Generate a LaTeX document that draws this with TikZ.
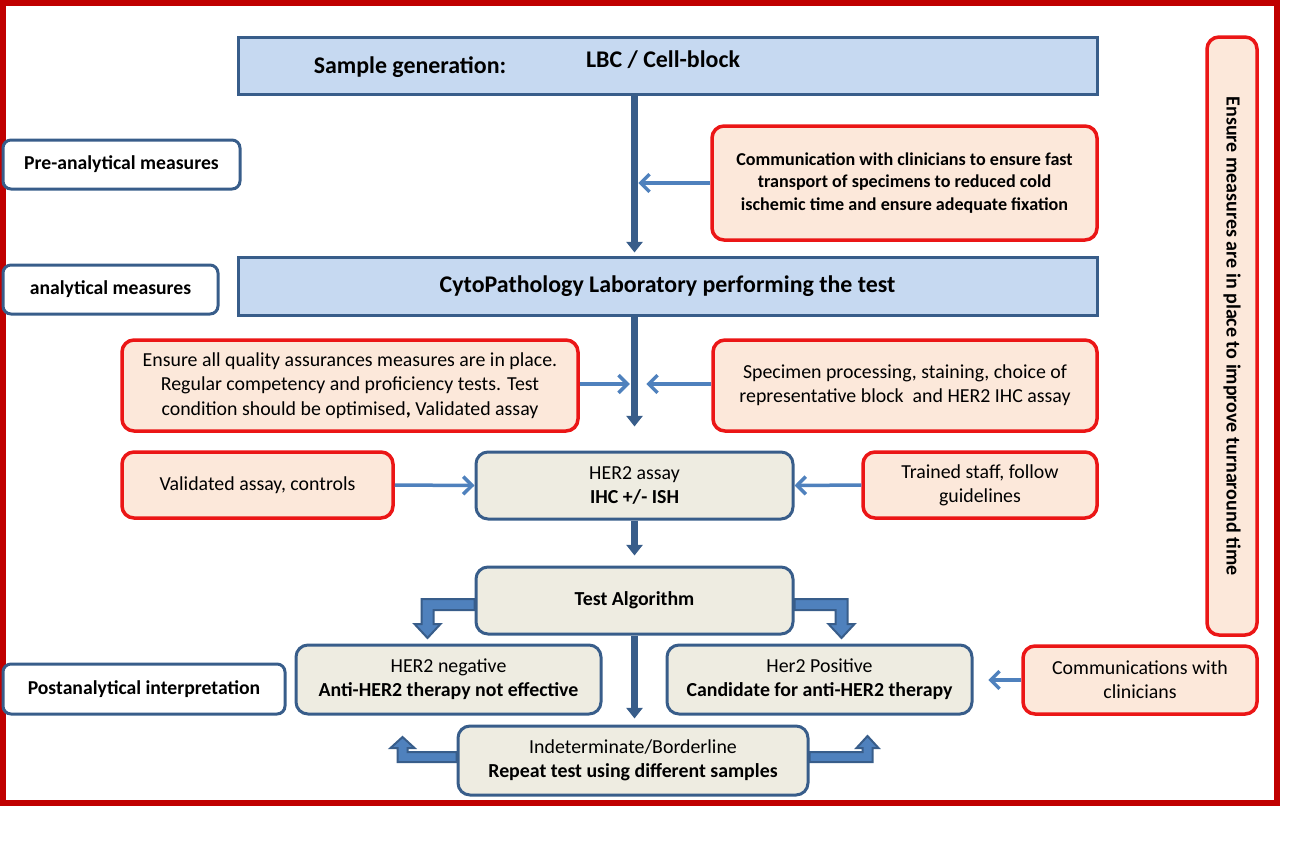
\documentclass[tikz,border=0pt]{standalone}
\usepackage{fontspec}
\setmainfont{Carlito}
\usetikzlibrary{arrows.meta}
\newcommand*{\px}{0.02cm}
\definecolor{framered}{RGB}{192,0,0}
\definecolor{boxred}{RGB}{235,22,22}
\definecolor{peach}{RGB}{252,232,218}
\definecolor{paleblue}{RGB}{198,217,241}
\definecolor{beige}{RGB}{238,236,225}
\definecolor{navy}{RGB}{56,93,138}
\definecolor{midblue}{RGB}{79,129,189}
\tikzset{
	bandbox/.style={
		draw=navy,
		line width=3*\px,
		fill=paleblue,
		font=\bfseries\fontsize{13.6}{16}\selectfont
	},
	phasebox/.style={
		draw=navy,
		line width=3*\px,
		fill=white,
		rounded corners=8*\px,
		font=\bfseries\fontsize{11.2}{13}\selectfont
	},
	notebox/.style={
		draw=boxred,
		line width=3.5*\px,
		fill=peach,
		rounded corners=12*\px,
		align=center,
		font=\fontsize{11.3}{13.8}\selectfont
	},
	stepbox/.style={
		draw=navy,
		line width=3*\px,
		fill=beige,
		rounded corners=12*\px,
		align=center,
		font=\fontsize{11.3}{13.8}\selectfont
	},
	spine/.style={
		draw=navy,
		line width=7*\px,
		-{Triangle[length=6pt,width=9pt]}
	},
	feed/.style={
		draw=midblue,
		line width=3.5*\px,
		-{Straight Barb[length=5pt,width=10pt]}
	},
	bent/.style={
		draw=navy,
		line width=2*\px,
		fill=midblue,
		line join=miter
	}
}
\begin{document}
\begin{tikzpicture}[x=\px,y=-\px]
	\useasboundingbox (0,0) rectangle (1300,866);
	\draw[framered, line width=6*\px] (3,3) rectangle (1277,803);

	\node (sample) [bandbox, minimum width=859*\px, minimum height=57*\px] at (667.5,65.5) {};
	\node (sgen) [font=\bfseries\fontsize{13.6}{16}\selectfont] at (410,67) {Sample generation:};
	\node (lbc) [font=\bfseries\fontsize{13.6}{16}\selectfont] at (663,60) {LBC / Cell-block};
	\node (lab) [bandbox, minimum width=859*\px, minimum height=58*\px] at (667.5,286) {CytoPathology Laboratory performing the test};

	\node (pre) [phasebox, minimum width=237*\px, minimum height=49*\px] at (121.5,164.5) {Pre-analytical measures};
	\node (ana) [phasebox, minimum width=215*\px, minimum height=49*\px] at (110.5,289.5) {analytical measures};
	\node (post) [phasebox, minimum width=282*\px, minimum height=50*\px] at (144,689) {Postanalytical interpretation};

	\node (comm) [notebox, font=\bfseries\fontsize{10.3}{12.6}\selectfont, minimum width=385*\px, minimum height=114*\px] at (904.5,183) {Communication with clinicians to ensure fast\\transport of specimens to reduced cold\\ischemic time and ensure adequate fixation};
	\node (qa) [notebox, minimum width=456*\px, minimum height=91*\px] at (350,385.5) {Ensure all quality assurances measures are in place.\\Regular competency and proficiency tests. Test\\condition should be optimised\textbf{,} Validated assay};
	\node (spec) [notebox, minimum width=384*\px, minimum height=91*\px] at (905,385.5) {Specimen processing, staining, choice of\\representative block\ \ and HER2 IHC assay};
	\node (valid) [notebox, minimum width=271*\px, minimum height=66*\px] at (257.5,485) {Validated assay, controls};
	\node (staff) [notebox, minimum width=234*\px, minimum height=66*\px] at (980,485) {Trained staff, follow\\guidelines};
	\node (clin) [notebox, minimum width=234*\px, minimum height=68*\px] at (1140,680) {Communications with\\clinicians};
	\node (ensure) [notebox, rotate=-90, font=\bfseries\fontsize{11.4}{13}\selectfont, minimum width=598*\px, minimum height=50*\px] at (1232,336) {Ensure measures are in place to improve turnaround time};

	\node (her) [stepbox, minimum width=317*\px, minimum height=67*\px] at (634.5,485.5) {HER2 assay\\\textbf{IHC +/- ISH}};
	\node (algo) [stepbox, minimum width=317*\px, minimum height=67*\px] at (634.5,600.5) {\textbf{Test Algorithm}};
	\node (neg) [stepbox, minimum width=305*\px, minimum height=69*\px] at (448.5,679.5) {HER2 negative\\\textbf{Anti-HER2 therapy not effective}};
	\node (pos) [stepbox, minimum width=305*\px, minimum height=69*\px] at (819.5,679.5) {Her2 Positive\\\textbf{Candidate for anti-HER2 therapy}};
	\node (indet) [stepbox, minimum width=350*\px, minimum height=69*\px] at (633,760.5) {Indeterminate/Borderline\\\textbf{Repeat test using different samples}};

	\draw[spine, shorten >=3*\px] (sample.south -| her.north) -- (lab.north -| her.north);
	\draw[spine] (lab.south -| her.north) -- ++(0,110);
	\draw[spine, shorten >=10*\px] (her.south) -- (algo.north);
	\draw[spine, shorten >=6*\px] (algo.south) -- (indet.north -| algo.south);

	\draw[feed] (comm.west) -- ++(-72,0);
	\draw[feed] (qa.east |- 0,384) -- ++(50,0);
	\draw[feed] (spec.west |- 0,384) -- ++(-65,0);
	\draw[feed] (valid.east) -- (her.west);
	\draw[feed] (staff.west) -- (her.east);
	\draw[feed] (clin.west) -- ++(-33,0);

	\draw[bent] (algo.west) ++(0,-1.5) -- ++(-53,0) -- ++(0,25) -- ++(-7,0) -- ++(13,14) -- ++(13,-14) -- ++(-7,0) -- ++(0,-14) -- ++(41,0) -- cycle;
	\draw[bent] (algo.east) ++(0,-1.5) -- ++(53,0) -- ++(0,25) -- ++(7,0) -- ++(-13,14) -- ++(-13,-14) -- ++(7,0) -- ++(0,-14) -- ++(-41,0) -- cycle;
	\draw[bent] (indet.west) ++(0,1.5) -- ++(-59,0) -- ++(0,-14) -- ++(-7,0) -- ++(12,-11) -- ++(12,11) -- ++(-7,0) -- ++(0,4) -- ++(49,0) -- cycle;
	\draw[bent] (indet.east) ++(0,1.5) -- ++(63,0) -- ++(0,-14) -- ++(6,0) -- ++(-11,-12) -- ++(-11,12) -- ++(6,0) -- ++(0,4) -- ++(-53,0) -- cycle;
\end{tikzpicture}
\end{document}
